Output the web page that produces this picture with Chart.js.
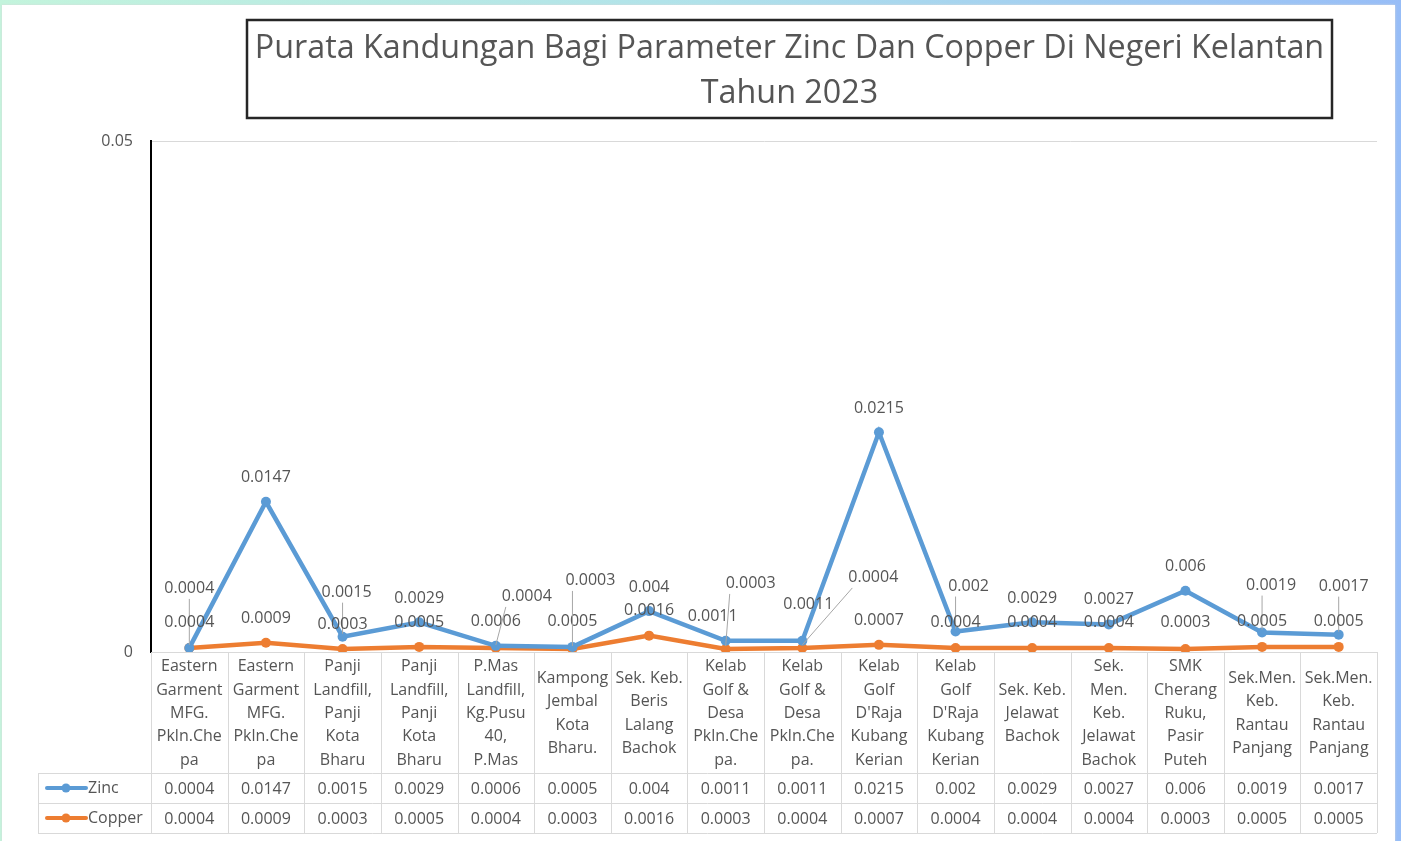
<!DOCTYPE html>
<html>
<head>
<meta charset="utf-8">
<script src="https://cdn.jsdelivr.net/npm/chart.js@4.4.1/dist/chart.umd.min.js"></script>
<style>
  html, body { margin: 0; padding: 0; }
  body {
    width: 1401px; height: 841px; overflow: hidden; position: relative;
    background: linear-gradient(90deg, #c3f4dc 0%, #b0e2ea 50%, #97bdf7 100%);
  }
  #card {
    position: absolute; left: 2px; top: 5px; width: 1393px; height: 836px;
    background: #ffffff; box-shadow: 0 0 2px #d8d8d8;
  }
</style>
</head>
<body>
<div id="card"><canvas id="chart"></canvas></div>
<script>
// data
var categories = [
  ["Eastern", "Garment", "MFG.", "Pkln.Che", "pa"],
  ["Eastern", "Garment", "MFG.", "Pkln.Che", "pa"],
  ["Panji", "Landfill,", "Panji", "Kota", "Bharu"],
  ["Panji", "Landfill,", "Panji", "Kota", "Bharu"],
  ["P.Mas", "Landfill,", "Kg.Pusu", "40,", "P.Mas"],
  ["Kampong", "Jembal", "Kota", "Bharu."],
  ["Sek. Keb.", "Beris", "Lalang", "Bachok"],
  ["Kelab", "Golf &", "Desa", "Pkln.Che", "pa."],
  ["Kelab", "Golf &", "Desa", "Pkln.Che", "pa."],
  ["Kelab", "Golf", "D'Raja", "Kubang", "Kerian"],
  ["Kelab", "Golf", "D'Raja", "Kubang", "Kerian"],
  ["Sek. Keb.", "Jelawat", "Bachok"],
  ["Sek.", "Men.", "Keb.", "Jelawat", "Bachok"],
  ["SMK", "Cherang", "Ruku,", "Pasir", "Puteh"],
  ["Sek.Men.", "Keb.", "Rantau", "Panjang"],
  ["Sek.Men.", "Keb.", "Rantau", "Panjang"]
];
var zinc = [0.0004, 0.0147, 0.0015, 0.0029, 0.0006, 0.0005, 0.004, 0.0011,
            0.0011, 0.0215, 0.002, 0.0029, 0.0027, 0.006, 0.0019, 0.0017];
var copper = [0.0004, 0.0009, 0.0003, 0.0005, 0.0004, 0.0003, 0.0016, 0.0003,
              0.0004, 0.0007, 0.0004, 0.0004, 0.0004, 0.0003, 0.0005, 0.0005];
var yTicks = [0, 0.05];
var titleLines = ["Purata Kandungan Bagi Parameter Zinc Dan Copper Di Negeri Kelantan", "Tahun 2023"];

// styling
var FONT = "'Open Sans', sans-serif";
var TXT = "#555555";
var GRIDC = "#d9d9d9";
var ZINC_C = "#5B9BD5";
var COPPER_C = "#ED7D31";
// label shift from the point: [dx, dy, leader line]
var zincShift = [[0,-59,1],[0,-24,0],[4,-44,1],[0,-24,0],[0,-24,0],[0,-25,0],[0,-24,0],[-13,-24,0],
                 [6,-36,0],[0,-24,0],[13,-45,1],[0,-24,0],[0,-25,0],[0,-24,0],[9,-47,1],[5,-48,1]];
var copperShift = [[0,-25,0],[0,-24,0],[0,-24,0],[0,-24,0],[31,-51,1],[18,-68,1],[0,-25,0],[25,-65,1],
                   [71,-70,1],[0,-24,0],[0,-25,0],[0,-25,0],[0,-25,0],[0,-26,0],[0,-25,0],[0,-25,0]];

var titleBox = {
  id: "titleBox",
  afterDraw: function (chart) {
    var ctx = chart.ctx;
    ctx.save();
    ctx.strokeStyle = "#262626";
    ctx.lineWidth = 2.5;
    ctx.strokeRect(245, 15, 1085, 98);
    ctx.fillStyle = TXT;
    ctx.font = "32.3px " + FONT;
    ctx.textAlign = "center";
    ctx.textBaseline = "middle";
    ctx.fillText(titleLines[0], 787.5, 44);
    ctx.fillText(titleLines[1], 787.5, 89);
    ctx.restore();
  }
};

var pointLabels = {
  id: "pointLabels",
  afterDatasetsDraw: function (chart) {
    var ctx = chart.ctx;
    ctx.save();
    ctx.font = "16px " + FONT;
    ctx.textAlign = "center";
    ctx.textBaseline = "middle";
    var shifts = [zincShift, copperShift];
    chart.data.datasets.forEach(function (ds, d) {
      var meta = chart.getDatasetMeta(d);
      meta.data.forEach(function (pt, i) {
        var s = shifts[d][i];
        var lx = pt.x + s[0], ly = pt.y + s[1];
        var txt = String(ds.data[i]);
        var w = ctx.measureText(txt).width;
        if (s[2]) {
          ctx.strokeStyle = "#a6a6a6";
          ctx.lineWidth = 1;
          var ax = Math.max(lx - w / 2 + 4, Math.min(lx + w / 2 - 4, pt.x));
          ctx.beginPath();
          ctx.moveTo(ax, ly + 10);
          ctx.lineTo(pt.x, pt.y - 3);
          ctx.stroke();
        }
        ctx.fillStyle = TXT;
        ctx.fillText(txt, lx, ly);
      });
    });
    ctx.restore();
  }
};

var dataTable = {
  id: "dataTable",
  afterDraw: function (chart) {
    var ctx = chart.ctx;
    var area = chart.chartArea;
    var xs = chart.scales.x;
    var n = categories.length;
    var colW = (area.right - area.left) / n;
    var top = area.bottom;
    var row1 = top + 121, row2 = row1 + 30, row3 = row2 + 30;
    var legL = 36;
    ctx.save();
    ctx.strokeStyle = GRIDC;
    ctx.lineWidth = 1;
    ctx.beginPath();
    for (var i = 0; i <= n; i++) {
      var x = Math.round(area.left + i * colW) + 0.5;
      ctx.moveTo(x, top);
      ctx.lineTo(x, row3);
    }
    [row1, row2, row3].forEach(function (y) {
      ctx.moveTo(legL, y + 0.5);
      ctx.lineTo(area.right, y + 0.5);
    });
    ctx.moveTo(legL + 0.5, row1);
    ctx.lineTo(legL + 0.5, row3);
    ctx.stroke();

    ctx.fillStyle = TXT;
    ctx.font = "16px " + FONT;
    ctx.textAlign = "center";
    ctx.textBaseline = "middle";
    var lh = 23.3;
    var mid = (top + row1) / 2 + 1;
    categories.forEach(function (lines, i) {
      var cx = xs.getPixelForValue(i);
      var y0 = mid - (lines.length - 1) * lh / 2;
      lines.forEach(function (ln, k) { ctx.fillText(ln, cx, y0 + k * lh); });
      ctx.fillText(String(zinc[i]), cx, (row1 + row2) / 2 + 1);
      ctx.fillText(String(copper[i]), cx, (row2 + row3) / 2 + 1);
    });

    // legend keys
    var keys = [["Zinc", ZINC_C, (row1 + row2) / 2], ["Copper", COPPER_C, (row2 + row3) / 2]];
    keys.forEach(function (k) {
      ctx.strokeStyle = k[1];
      ctx.lineWidth = 4;
      ctx.lineCap = "round";
      ctx.beginPath();
      ctx.moveTo(45, k[2]);
      ctx.lineTo(84, k[2]);
      ctx.stroke();
      ctx.fillStyle = k[1];
      ctx.beginPath();
      ctx.arc(64, k[2], 4.5, 0, Math.PI * 2);
      ctx.fill();
      ctx.fillStyle = TXT;
      ctx.textAlign = "left";
      ctx.fillText(k[0], 86, k[2]);
    });
    ctx.restore();
  }
};

new Chart(document.getElementById("chart"), {
  type: "line",
  data: {
    labels: categories,
    datasets: [{
      label: "Zinc",
      data: zinc,
      borderColor: ZINC_C,
      backgroundColor: ZINC_C,
      borderWidth: 4.5,
      pointRadius: 5,
      pointBorderWidth: 0,
      lineTension: 0
    }, {
      label: "Copper",
      data: copper,
      borderColor: COPPER_C,
      backgroundColor: COPPER_C,
      borderWidth: 4.5,
      pointRadius: 5,
      pointBorderWidth: 0,
      lineTension: 0
    }]
  },
  options: {
    responsive: true,
    maintainAspectRatio: false,
    animation: false,
    devicePixelRatio: 1,
    layout: { padding: { top: 136, right: 18, left: 0, bottom: 0 } },
    plugins: {
      legend: { display: false },
      tooltip: { enabled: false },
      title: { display: false }
    },
    scales: {
      x: {
        offset: true,
        grid: { display: false },
        border: { display: false },
        ticks: { display: false },
        afterFit: function (scale) { scale.height = 189; }
      },
      y: {
        min: yTicks[0],
        max: yTicks[1],
        afterBuildTicks: function (scale) {
          scale.ticks = yTicks.map(function (v) { return { value: v }; });
        },
        grid: { color: GRIDC, drawTicks: false },
        border: { color: "#000000", width: 2 },
        ticks: {
          padding: 18,
          color: TXT,
          font: { family: FONT, size: 16 },
          callback: function (v) { return String(v); }
        },
        afterFit: function (scale) { scale.width = 149; }
      }
    }
  },
  plugins: [titleBox, pointLabels, dataTable]
});
</script>
</body>
</html>
